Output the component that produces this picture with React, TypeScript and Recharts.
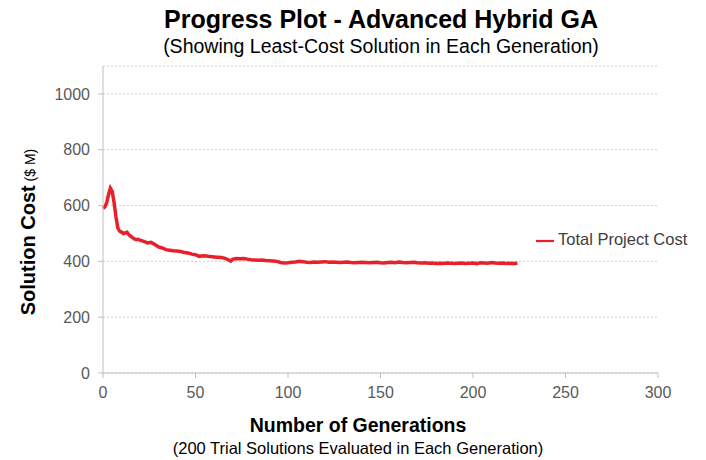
import { CartesianGrid, Legend, Line, LineChart, XAxis, YAxis } from 'recharts';

const generations = [
  0, 1, 2, 3, 4, 5, 6, 7, 8, 9, 10, 11, 12, 13, 14, 15, 16, 17, 18, 19, 20,
  22, 24, 26, 28, 30, 32, 34, 36, 38, 40, 42, 44, 46, 48, 50, 52, 54, 56, 58,
  60, 62, 64, 66, 68, 69, 70, 72, 74, 76, 78, 80, 82, 84, 86, 88, 90, 92, 94,
  96, 98, 100, 102, 104, 106, 108, 110, 112, 114, 116, 118, 120, 122, 124, 126,
  128, 130, 132, 134, 136, 138, 140, 142, 144, 146, 148, 150, 152, 154, 156,
  158, 160, 162, 164, 166, 168, 170, 172, 174, 176, 178, 180, 182, 184, 186,
  188, 190, 192, 194, 196, 198, 200, 202, 204, 206, 208, 210, 212, 214, 216,
  218, 220, 222, 224,
];

const totalProjectCost = [
  590, 595, 610, 640, 662, 650, 610, 560, 520, 508, 505, 500, 502, 504, 495, 490, 485, 480, 478, 479, 476,
  472, 466, 468, 460, 452, 448, 442, 440, 438, 437, 435, 432, 430, 426, 424, 418, 420, 419, 417,
  416, 415, 414, 411, 405, 401, 407, 410, 409, 410, 408, 406, 405, 404, 405, 403, 402, 401, 400,
  396, 394, 395, 397, 398, 400, 399, 397, 396, 398, 397, 398, 399, 397, 398, 397,
  396, 397, 398, 396, 395, 396, 397, 396, 395, 396, 397, 395, 394, 396, 397,
  395, 398, 396, 395, 396, 397, 395, 394, 395, 393, 394, 392, 393, 392, 394,
  393, 392, 393, 394, 392, 393, 394, 392, 395, 394, 393, 396, 394, 393, 394,
  392, 393, 392, 393,
];

const xTicks = [0, 50, 100, 150, 200, 250, 300];
const yTicks = [0, 200, 400, 600, 800, 1000];

const data = generations.map((g, i) => ({ gen: g, cost: totalProjectCost[i] }));

const font = '"Liberation Sans", Arial, sans-serif';

export default function App() {
  return (
    <div
      style={{
        position: 'absolute',
        left: 0,
        top: 0,
        width: 706,
        height: 460,
        background: '#fff',
        fontFamily: font,
      }}
    >
      <div
        style={{
          position: 'absolute',
          left: 0,
          width: 762,
          top: 5,
          textAlign: 'center',
          fontSize: 25,
          lineHeight: '28px',
          fontWeight: 'bold',
          color: '#000',
        }}
      >
        Progress Plot - Advanced Hybrid GA
      </div>
      <div
        style={{
          position: 'absolute',
          left: 0,
          width: 762,
          top: 35,
          textAlign: 'center',
          fontSize: 19.5,
          lineHeight: '22px',
          color: '#000',
        }}
      >
        (Showing Least-Cost Solution in Each Generation)
      </div>

      <LineChart
        width={706}
        height={460}
        data={data}
        margin={{ top: 66, right: 48, bottom: 57, left: 0 }}
        style={{ fontFamily: font }}
      >
        <CartesianGrid vertical={false} stroke="#d0d0d0" strokeDasharray="2 2" />
        <XAxis
          dataKey="gen"
          type="number"
          domain={[0, 300]}
          ticks={xTicks}
          height={30}
          stroke="#bfbfbf"
          tickSize={5}
          tickMargin={9}
          tick={{ fill: '#595959', fontSize: 16 }}
        />
        <YAxis
          type="number"
          domain={[0, 1100]}
          ticks={yTicks}
          width={103}
          stroke="#bfbfbf"
          tickSize={5}
          tickMargin={8}
          tick={{ fill: '#595959', fontSize: 16 }}
        />
        <Legend
          layout="vertical"
          align="center"
          verticalAlign="middle"
          iconType="plainline"
          iconSize={18}
          wrapperStyle={{ left: 536, top: 230, width: 'auto', fontSize: 16.5 }}
          formatter={(value) => <span style={{ color: '#404040' }}>{value}</span>}
        />
        <Line
          name="Total Project Cost"
          type="linear"
          dataKey="cost"
          stroke="#e8202a"
          strokeWidth={3.5}
          dot={false}
          isAnimationActive={false}
        />
      </LineChart>

      <div
        style={{
          position: 'absolute',
          left: 0,
          width: 716,
          top: 413,
          textAlign: 'center',
          fontSize: 19.5,
          lineHeight: '24px',
          fontWeight: 'bold',
          color: '#000',
        }}
      >
        Number of Generations
      </div>
      <div
        style={{
          position: 'absolute',
          left: 0,
          width: 716,
          top: 438,
          textAlign: 'center',
          fontSize: 16.5,
          lineHeight: '20px',
          color: '#000',
        }}
      >
        (200 Trial Solutions Evaluated in Each Generation)
      </div>
      <div
        style={{
          position: 'absolute',
          left: 28,
          top: 232,
          transform: 'translate(-50%, -50%) rotate(-90deg)',
          whiteSpace: 'nowrap',
          color: '#000',
        }}
      >
        <span style={{ fontSize: 20, fontWeight: 'bold' }}>Solution Cost</span>
        <span style={{ fontSize: 14 }}> ($ M)</span>
      </div>
    </div>
  );
}
